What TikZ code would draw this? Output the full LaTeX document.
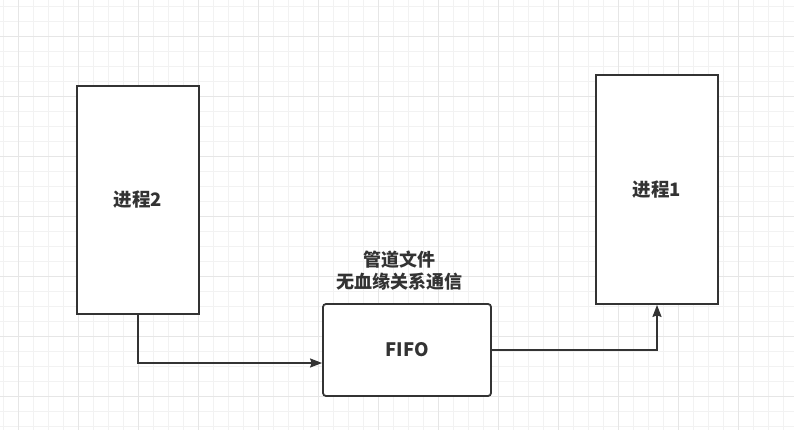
\documentclass[tikz,border=0pt]{standalone}
\usepackage{fontspec}
\setmainfont{Noto Sans CJK SC}
\usetikzlibrary{arrows.meta}
\definecolor{linecol}{RGB}{51,51,51}
\definecolor{gridminor}{RGB}{242,242,242}
\definecolor{gridmajor}{RGB}{230,230,230}
\tikzset{
  proc/.style={draw=linecol, line width=1.8pt, fill=white,
    minimum width=122pt, minimum height=228pt,
    font=\fontsize{18.5}{22}\selectfont\bfseries, text=linecol},
  fifobox/.style={draw=linecol, line width=1.8pt, fill=white, rounded corners=3pt,
    minimum width=168pt, minimum height=92pt,
    font=\fontsize{18.5}{22}\selectfont\bfseries, text=linecol},
  conn/.style={draw=linecol, line width=1.8pt,
    -{Stealth[length=12pt,width=9pt,inset=1.5pt]}},
}
\begin{document}
\begin{tikzpicture}[x=1pt, y=-1pt]

		\useasboundingbox (0,0) rectangle (794,430);
		\fill[white] (0,0) rectangle (794,430);

		% grid
		\foreach \k in {0,...,52}
			\draw[line width=1pt, gridminor] (3.3+15*\k, 0) -- (3.3+15*\k, 430);
		\foreach \k in {0,...,28}
			\draw[line width=1pt, gridminor] (0, 6.7+15*\k) -- (794, 6.7+15*\k);
		\foreach \k in {0,...,12}
			\draw[line width=1pt, gridmajor] (18.3+60*\k, 0) -- (18.3+60*\k, 430);
		\foreach \k in {0,...,6}
			\draw[line width=1pt, gridmajor] (0, 36.7+60*\k) -- (794, 36.7+60*\k);

		% boxes
		\node[proc] (proc2) at (138, 200) {进程2};
		\node[proc, minimum height=229pt] (proc1) at (657, 189.5) {进程1};
		\node[fifobox] (fifo) at (407, 350) {FIFO};

		\node[align=center, text=linecol, font=\fontsize{18}{22.7}\selectfont\bfseries]
			(fifolabel) at (399, 270.5) {管道文件\\无血缘关系通信};

		% arrows
		\draw[conn] (proc2.south) |- ([yshift=-13pt]fifo.west);
		\draw[conn] (fifo.east) -| (proc1.south);
	\end{tikzpicture}
\end{document}
